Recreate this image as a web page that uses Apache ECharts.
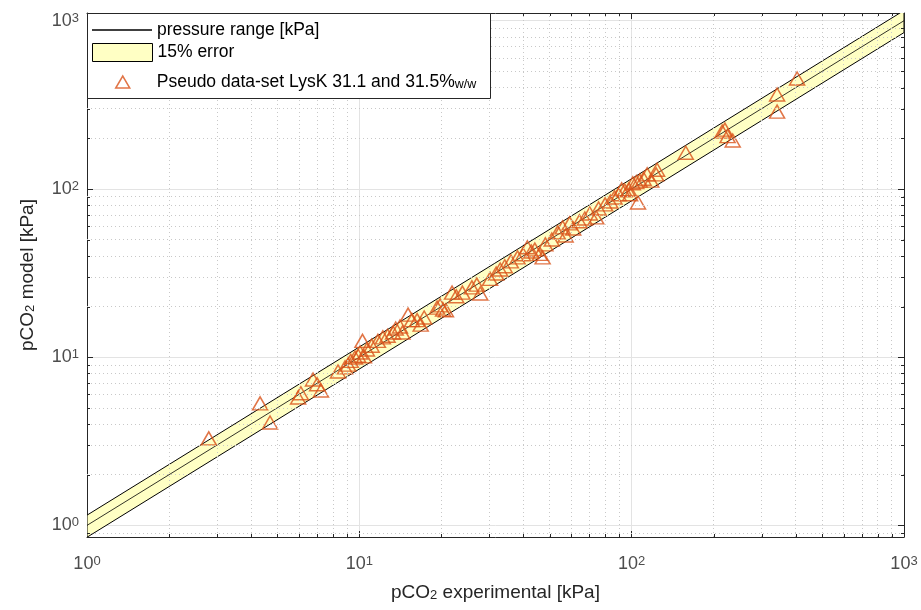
<!DOCTYPE html>
<html><head><meta charset="utf-8">
<script src="https://cdn.jsdelivr.net/npm/echarts@6/dist/echarts.min.js"></script>
<style>html,body{margin:0;padding:0;background:#fff}#c{width:921px;height:610px}</style>
</head><body><div id="c"></div>
<script>
// experimental pCO2 [kPa]
const expX = [2.8,4.32,4.7,5.96,6.1,6.76,7.0,7.23,
  8.35,8.86,9.1,9.3,9.64,9.9,10.07,10.27,10.4,10.66,11.1,11.7,12.2,12.7,13.3,13.6,14.1,14.4,15.1,15.6,16.3,16.8,17.3,
  19.3,19.8,20.3,20.8,21.9,22.7,23.9,25.9,27.0,27.8,30.2,31.8,32.9,34.2,36.0,38.1,39.9,41.4,42.8,44.1,46.0,47.1,48.2,50.9,53.5,55.8,57.2,59.2,61.0,
  64.3,67.3,70.2,74.1,75.6,79.9,83.5,86.5,89.6,91.9,94.2,97.6,98.7,101,104,105.5,107,110.6,114,118,123,124,
  158,215,220,225,235,342,342,405];
// model pCO2 [kPa]
const modelY = [3.29,5.31,4.09,5.76,6.1,7.37,6.9,6.34,
  8.22,8.69,9.03,9.5,9.96,10.2,10.66,12.5,10.1,11.1,11.7,12.5,13.1,13.4,14.0,14.8,15.2,14.0,17.9,16.6,16.6,15.6,17.2,
  19.7,20.3,19.2,19.0,24.2,23.0,24.2,26.0,27.0,23.9,29.2,31.4,33.2,34.7,37.1,39.2,40.9,45.0,42.5,43.6,41.1,39.2,46.8,50.0,55.2,59.1,52.9,62.4,58.2,
  64.2,66.7,71.4,67.7,76.5,80.9,84.1,89.0,92.9,99.4,98.0,99.4,92.9,108,110,83,112,115,122,112,122,130,
  164,219,225,206,194,364,288,453];
// pressure range line and 15% error band
const rangeX = [1, 1000];
const rangeY = [1, 1000];
const bandX = [1, 1000];
const bandLow = [0.85, 850];
const bandHigh = [1.15, 1150];
// axis extents and minor ticks
const xMin = 1, xMax = 1000;
const yMin = 0.853, yMax = 1111;
const minorX = [2,3,4,5,6,7,8,9,20,30,40,50,60,70,80,90,200,300,400,500,600,700,800,900];
const minorY = [0.9,2,3,4,5,6,7,8,9,20,30,40,50,60,70,80,90,200,300,400,500,600,700,800,900];

const seriesNames = ['pressure range [kPa]', '15% error', 'Pseudo data-set LysK 31.1 and 31.5% w/w'];

const chart = echarts.init(document.getElementById('c'), null, {renderer: 'canvas'});
const axisColor = '#262626';
const font = 'Liberation Sans, Arial, Helvetica, sans-serif';
const supLabel = v => '{b|10}{s|' + Math.round(Math.log10(v)) + '}';
const labelRich = {
  b: {fontSize: 18, fontFamily: font, color: '#4d4d4d', lineHeight: 18, verticalAlign: 'bottom'},
  s: {fontSize: 13, fontFamily: font, color: '#4d4d4d', lineHeight: 12, verticalAlign: 'top', padding: [0,0,12,0]}
};
const nameRich = {
  sub: {fontSize: 13, fontFamily: font, color: '#262626', lineHeight: 13, verticalAlign: 'bottom', padding: [11,0,0,0]}
};

function logAxis(dim, pos, mn, mx, main) {
  return {
    type: 'log', logBase: 10, min: mn, max: mx, position: pos,
    axisLine: {show: true, lineStyle: {color: axisColor, width: 1}},
    axisTick: {show: true, inside: true, length: 6, lineStyle: {color: axisColor}},
    minorTick: {show: false},
    axisLabel: main ? {
      show: true, showMinLabel: dim === 'x', showMaxLabel: dim === 'x',
      formatter: supLabel, rich: labelRich, margin: dim === 'x' ? 18 : 8
    } : {show: false},
    splitLine: main ? {show: true, lineStyle: {color: '#e3e3e3', width: 1}} : {show: false},
    name: main ? (dim === 'x' ? 'pCO{sub|2} experimental [kPa]' : 'pCO{sub|2} model [kPa]') : '',
    nameLocation: 'middle',
    nameMoveOverlap: false,
    nameGap: dim === 'x' ? 46 : 50,
    nameTextStyle: {fontSize: 19, fontFamily: font, color: '#262626', rich: nameRich}
  };
}

const dotted = {color: '#c8c8c8', width: 1, type: [1, 3]};

const option = {
  animation: false,
  backgroundColor: '#fff',
  grid: {left: 87, right: 17, top: 13, bottom: 73, containLabel: false, outerBoundsMode: 'none'},
  xAxis: [logAxis('x', 'bottom', xMin, xMax, true), logAxis('x', 'top', xMin, xMax, false)],
  yAxis: [logAxis('y', 'left', yMin, yMax, true), logAxis('y', 'right', yMin, yMax, false)],
  legend: [
    {data: [{name: seriesNames[0], icon: 'path://M0,0H60V1.6H0Z', itemStyle: {color: '#000', borderWidth: 0}}],
     left: 92, top: 21, itemWidth: 60, itemHeight: 16, itemGap: 0, padding: 0,
     textStyle: {fontSize: 17.5, fontFamily: font, color: '#000'}, selectedMode: false, z: 10},
    {data: [{name: seriesNames[1], icon: 'rect', itemStyle: {color: '#ffffc4', borderColor: '#000', borderWidth: 1}}],
     left: 92, top: 43, itemWidth: 60, itemHeight: 18, padding: 0,
     textStyle: {fontSize: 17.5, fontFamily: font, color: '#000'}, selectedMode: false, z: 10},
    {data: [{name: seriesNames[2], icon: 'path://M0,12L7,0L14,12Z', itemStyle: {color: 'rgba(0,0,0,0)', borderColor: '#D95319', borderWidth: 1.5}}],
     left: 115, top: 66, itemWidth: 14, itemHeight: 13, padding: 0,
     formatter: n => '{gap| }Pseudo data-set LysK 31.1 and 31.5%{sub|w/w}',
     textStyle: {fontSize: 17.5, fontFamily: font, color: '#000',
       rich: {gap: {width: 22, fontSize: 17.5},
              sub: {fontSize: 12.5, fontFamily: font, color: '#000', lineHeight: 12, verticalAlign: 'bottom', padding: [12,0,0,0]}}},
     selectedMode: false, z: 10}
  ],
  graphic: [{type: 'rect', left: 87, top: 13, z: 9, shape: {width: 403, height: 85},
    style: {fill: '#fff', stroke: '#262626', lineWidth: 1}}],
  series: [
    {name: 'minor grid', type: 'line', data: [], silent: true, z: 1,
     markLine: {silent: true, symbol: 'none', animation: false, label: {show: false}, lineStyle: dotted,
       data: minorX.map(v => ({xAxis: v})).concat(minorY.map(v => ({yAxis: v})))}},
    {name: 'minor ticks', type: 'custom', z: 5, silent: true, data: [[xMin, yMin]],
     renderItem: function (params, api) {
       const cs = params.coordSys;
       const L = 3;
       const els = [];
       const st = {stroke: axisColor, lineWidth: 1};
       minorX.forEach(v => {
         const px = Math.round(api.coord([v, yMin])[0]) + 0.5;
         els.push({type: 'line', shape: {x1: px, y1: cs.y + cs.height, x2: px, y2: cs.y + cs.height - L}, style: st});
         els.push({type: 'line', shape: {x1: px, y1: cs.y, x2: px, y2: cs.y + L}, style: st});
       });
       minorY.forEach(v => {
         const py = Math.round(api.coord([xMin, v])[1]) + 0.5;
         els.push({type: 'line', shape: {x1: cs.x, y1: py, x2: cs.x + L, y2: py}, style: st});
         els.push({type: 'line', shape: {x1: cs.x + cs.width, y1: py, x2: cs.x + cs.width - L, y2: py}, style: st});
       });
       return {type: 'group', children: els};
     }},
    {name: seriesNames[1], type: 'custom', z: 2, silent: true,
     data: bandX.map((x, i) => [x, bandLow[i], bandHigh[i]]),
     renderItem: function (params, api) {
       if (params.dataIndex !== 0) return null;
       const pts = [];
       for (let i = 0; i < bandX.length; i++) pts.push(api.coord([bandX[i], bandLow[i]]));
       for (let i = bandX.length - 1; i >= 0; i--) pts.push(api.coord([bandX[i], bandHigh[i]]));
       const cs = params.coordSys;
       return {type: 'polygon', shape: {points: pts},
         style: {fill: '#ffffc4', stroke: '#000', lineWidth: 1},
         clipPath: {type: 'rect', shape: {x: cs.x, y: cs.y, width: cs.width, height: cs.height}}};
     }},
    {name: seriesNames[0], type: 'line', z: 3, symbol: 'none', silent: true,
     data: rangeX.map((x, i) => [x, rangeY[i]]),
     lineStyle: {color: '#000', width: 0.8}},
    {name: seriesNames[2], type: 'scatter', z: 4, symbol: 'triangle', symbolSize: [15, 13],
     data: expX.map((x, i) => [x, modelY[i]]),
     itemStyle: {color: 'rgba(0,0,0,0)', borderColor: '#D95319', borderWidth: 1.5}}
  ]
};
chart.setOption(option);
</script></body></html>
